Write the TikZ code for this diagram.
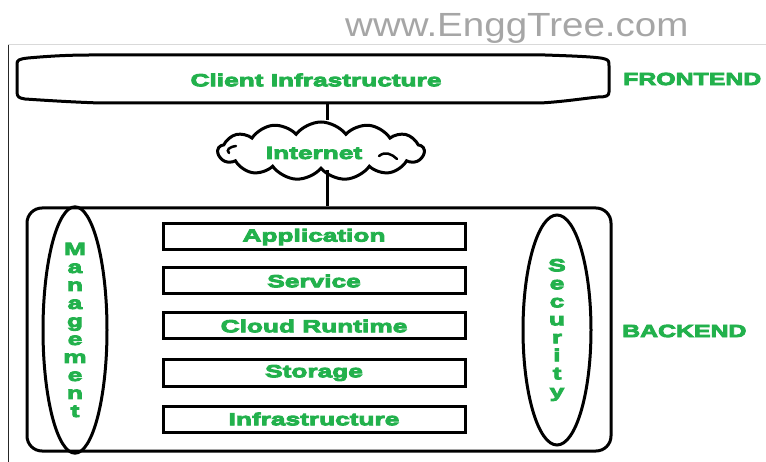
\documentclass[tikz,border=0pt]{standalone}
\usepackage{fontspec}
\setmainfont{Liberation Sans}
\newfontfamily\labelfont{Liberation Sans}[FakeStretch=1.5]
\newfontfamily\tierfont{Liberation Sans}[FakeStretch=1.42]
\newfontfamily\markfont{Liberation Sans}[FakeStretch=1.15]
\usetikzlibrary{shapes.geometric,shapes.symbols}
\definecolor{cgreen}{HTML}{22B14C}
\definecolor{markgray}{HTML}{A6A6A6}
\definecolor{rulegray}{HTML}{D9D9D9}
% heavy lettering: fill and stroke the glyphs
\newcommand\heavyon{\special{pdf:literal direct 2 Tr 0.9 w}}
\newcommand\heavyoff{\special{pdf:literal direct 0 Tr}}
\tikzset{
  heavy/.style={execute at begin node=\heavyon, execute at end node=\heavyoff},
  lbl/.style={font=\labelfont\bfseries\fontsize{17.5}{18}\selectfont, text=cgreen, heavy},
  outline/.style={draw=black, line width=3pt},
  layer/.style={outline, rectangle, minimum width=302pt, minimum height=26pt, inner sep=0pt, lbl},
  side/.style={outline, ellipse, minimum width=64pt, minimum height=230pt, inner sep=0pt, lbl, align=center},
  wire/.style={line width=3pt},
  tier/.style={font=\tierfont\bfseries\fontsize{17.5}{18}\selectfont, text=cgreen, heavy, anchor=west, inner sep=0pt},
}
\begin{document}
\begin{tikzpicture}[x=1pt, y=-1pt]
\useasboundingbox (0,0) rectangle (766,462);
\fill[white] (0,0) rectangle (766,462);

% page rules
\draw[rulegray, line width=1pt] (8,45) -- (766,45);
\draw[black!85, line width=1pt] (8,45) -- (8,462);

% site mark
\node[font=\markfont\fontsize{33.5}{36}\selectfont, text=markgray, anchor=base west, inner sep=0pt]
  (mark) at (345,37) {www.EnggTree.com};

% front end
\node[lbl, minimum width=592pt, minimum height=48pt, inner sep=0pt] (client) at (316,80) {Client Infrastructure};
\draw[line width=3pt, line join=round]
  (17,90) -- (17,64)
  .. controls (17,60) and (19,59) .. (28,58)
  .. controls (50,56) and (70,55) .. (90,55)
  -- (545,55)
  .. controls (575,56) and (600,57) .. (605,59)
  .. controls (609,60) and (609,62) .. (609,66)
  -- (609,92)
  .. controls (609,96) and (606,97) .. (598,97)
  .. controls (580,99) and (560,102) .. (540,103)
  -- (100,103)
  .. controls (70,102) and (40,100) .. (25,99)
  .. controls (19,98) and (17,97) .. (17,92) -- cycle;
\node[tier] (front) at (623,79) {FRONTEND};

% internet
\node[cloud, cloud puffs=13, cloud puff arc=105, aspect=3.6, outline, fill=white,
      minimum width=206pt, minimum height=58pt, inner sep=0pt] (net) at (321,151) {};
\node[lbl] (nettext) at (314,153) {Internet};
\draw[line width=2.5pt, line cap=round] (379,156) .. controls (385,151) and (392,154) .. (397,159);
\draw[line width=2.5pt, line cap=round] (236,146) .. controls (229,147) and (226,150) .. (229,153);
\coordinate (tap) at (327,0);

% back end
\node[outline, rectangle, rounded corners=15pt, minimum width=584pt, minimum height=243pt] (back) at (319,329.5) {};
\node[tier] (backlbl) at (622,331) {BACKEND};

\node[layer] (app)   at (314,237) {Application};
\node[layer] (svc)   at (314,281) {Service};
\node[layer] (rt)    at (314,326) {Cloud Runtime};
\node[layer] (store) at (314,373) {Storage};
\node[layer] (infra) at (314,419) {Infrastructure};

\node[side] (mgmt) at (75,330) {M\\a\\n\\a\\g\\e\\m\\e\\n\\t};
\node[side, minimum width=68pt] (sec) at (557,330) {S\\e\\c\\u\\r\\i\\t\\y};

% links
\draw[wire] (client.south -| tap) -- (tap |- net.north);
\draw[wire] (net.south -| tap) -- (tap |- back.north);
\end{tikzpicture}
\end{document}
